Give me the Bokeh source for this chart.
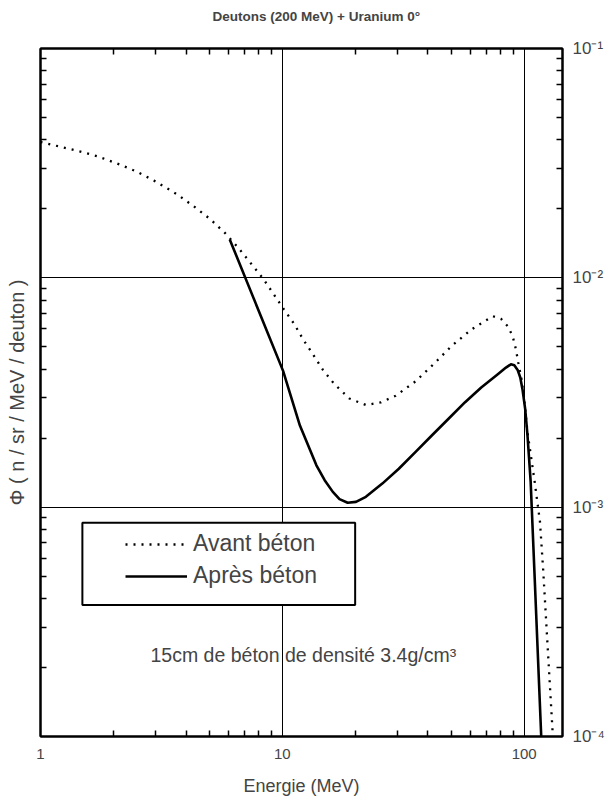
from bokeh.plotting import figure
from bokeh.models import (LogAxis, FixedTicker, Label, Legend, LegendItem,
                          BoxAnnotation, Range1d, ColumnDataSource)
from bokeh.embed import file_html
from bokeh.resources import INLINE

# ---------------- data ----------------
energy_avant = [1.0, 1.463, 1.715, 2.141, 2.509, 2.939, 3.672, 4.301, 5.04, 5.814,
                6.6, 7.42, 8.32, 9.20, 10.12, 11.21, 12.19, 13.39, 14.72, 16.43,
                18.92, 22.16, 25.51, 29.39, 35.48, 42.83, 50.08, 60.46, 74.17,
                80.21, 85.46, 89.56, 92.42, 94.54, 97.46, 100.0, 103.2, 110.5,
                116.2, 119.9, 125.3, 131.4]
flux_avant = [0.0391, 0.03552, 0.03393, 0.03111, 0.02901, 0.0266, 0.02312,
              0.02051, 0.01801, 0.01562, 0.01345, 0.01154, 0.00994, 0.0085,
              0.00732, 0.00628, 0.005385, 0.004637, 0.003968, 0.003436,
              0.002979, 0.002788, 0.002862, 0.00306, 0.003531, 0.004268,
              0.005043, 0.005952, 0.006803, 0.006622, 0.006157, 0.005571,
              0.004875, 0.004268, 0.003613, 0.002959, 0.002122, 0.001288,
              0.000864, 0.000525, 0.000236, 0.0001]

energy_apres = [6.06, 10.07, 11.82, 13.83, 14.96, 16.17, 17.23, 18.62, 20.16,
                22.15, 25.90, 30.31, 35.48, 41.49, 48.54, 56.82, 66.43, 77.78,
                84.06, 88.11, 91.02, 93.92, 96.33, 98.36, 100.96, 103.18, 106.36,
                110.5, 117.6]
flux_apres = [0.01471, 0.003929, 0.002269, 0.001522, 0.001311, 0.001166,
              0.001084, 0.001045, 0.001055, 0.001109, 0.001267, 0.001471,
              0.001738, 0.002054, 0.002424, 0.002862, 0.003325, 0.003797,
              0.004061, 0.004196, 0.004155, 0.003968, 0.003675, 0.003269,
              0.002678, 0.002054, 0.001288, 0.000491, 0.0001]

x_major = [1, 10, 100]
x_minor = [2, 3, 4, 5, 6, 7, 8, 9, 20, 30, 40, 50, 60, 70, 80, 90]
y_major = [1e-4, 1e-3, 1e-2, 1e-1]
y_minor = [m * 10.0 ** e for e in (-4, -3, -2) for m in range(2, 10)]
y_exponents = ["-4", "-3", "-2", "-1"]

series_names = ["Avant béton", "Après béton"]
title_text = "Deutons (200 MeV) + Uranium 0°"
x_title = "Energie (MeV)"
y_title = "Φ ( n / sr / MeV / deuton )"
note_text = "15cm de béton de densité 3.4g/cm³"

FONT = "Liberation Sans"
SUP = str.maketrans("-0123456789", "⁻⁰¹²³⁴⁵⁶⁷⁸⁹")

p = figure(width=614, height=800, x_axis_type="log", y_axis_type="log",
           x_range=Range1d(1, 144), y_range=Range1d(1e-4, 1e-1),
           output_backend="svg", toolbar_location=None,
           min_border_left=40, min_border_right=52, min_border_top=44,
           min_border_bottom=64, title=title_text)

p.background_fill_color = "white"
p.border_fill_color = "white"
p.outline_line_color = "black"
p.outline_line_width = 2

p.title.text_font = FONT
p.title.text_font_size = "13.5px"
p.title.text_font_style = "bold"
p.title.align = "left"
p.title.offset = 172
p.title.standoff = 12


def style_axis(ax, major, minor):
    ax.ticker = FixedTicker(ticks=major, minor_ticks=minor)
    ax.axis_line_color = "black"
    ax.axis_line_width = 2
    ax.major_tick_in = 0
    ax.major_tick_out = 0
    ax.minor_tick_in = 6
    ax.minor_tick_out = 0
    ax.minor_tick_line_width = 1.5
    ax.minor_tick_line_color = "black"
    ax.major_label_text_font = FONT
    ax.axis_label_text_font = FONT
    ax.axis_label_text_font_style = "normal"


bottom = p.xaxis[0]
left = p.yaxis[0]
top = LogAxis()
right = LogAxis()
p.add_layout(top, "above")
p.add_layout(right, "right")
for ax in (bottom, top):
    style_axis(ax, x_major, x_minor)
for ax in (left, right):
    style_axis(ax, y_major, y_minor)

bottom.major_label_overrides = {v: f"{v:g}" for v in x_major}
bottom.major_label_text_font_size = "15px"
bottom.major_label_standoff = 12
bottom.axis_label = x_title
bottom.axis_label_text_font_size = "18px"
bottom.axis_label_standoff = 14

left.major_label_overrides = {v: "" for v in y_major}
left.major_label_standoff = 0
left.axis_label = y_title
left.axis_label_text_font_size = "20px"
left.axis_label_standoff = 13

# blank labels on the top axis only reserve room above the frame
top.major_label_overrides = {v: " " for v in x_major}
top.major_label_text_font_size = "14px"
top.major_label_standoff = 0

right.major_label_overrides = {v: "10" + e.translate(SUP)
                               for v, e in zip(y_major, y_exponents)}
right.major_label_text_font_size = "17px"
right.major_label_standoff = 10

p.xgrid.ticker = FixedTicker(ticks=[10, 100])
p.ygrid.ticker = FixedTicker(ticks=[1e-3, 1e-2])
for g in (p.xgrid, p.ygrid):
    g.grid_line_color = "black"
    g.grid_line_width = 1
    g.grid_line_alpha = 1.0

src_a = ColumnDataSource(dict(x=energy_avant, y=flux_avant))
src_b = ColumnDataSource(dict(x=energy_apres, y=flux_apres))
r_a = p.line("x", "y", source=src_a, line_color="black", line_width=2.3,
             line_dash="2 6")
r_b = p.line("x", "y", source=src_b, line_color="black", line_width=2.6,
             line_join="round")

# legend box + legend
p.add_layout(BoxAnnotation(left=1.49, right=20.0, bottom=0.000374, top=0.000856,
                           fill_color="white", fill_alpha=1.0,
                           line_color="black", line_alpha=1.0, line_width=2))
legend = Legend(items=[LegendItem(label=series_names[0], renderers=[r_a]),
                       LegendItem(label=series_names[1], renderers=[r_b])],
                location=(85, 147), padding=0, margin=0, spacing=5,
                border_line_alpha=0, background_fill_alpha=0,
                glyph_width=62, glyph_height=26, label_height=26,
                label_standoff=6, label_text_font=FONT,
                label_text_font_size="23px")
p.add_layout(legend, "center")

p.add_layout(Label(x=2.85, y=0.000227, text=note_text, text_font=FONT,
                   text_font_size="19.5px", text_baseline="middle",
                   text_align="left"))

open("out.html", "w").write(file_html(p, INLINE))
